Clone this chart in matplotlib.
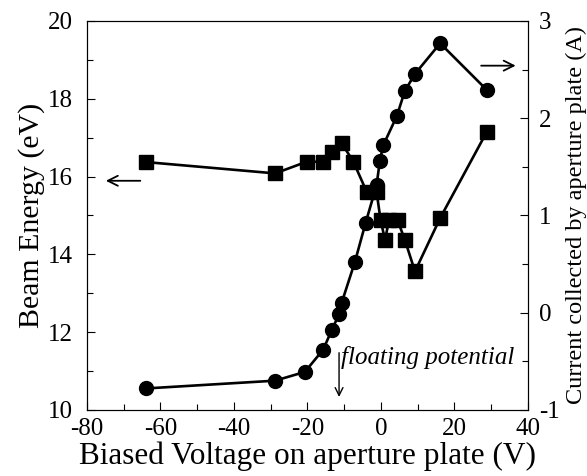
import matplotlib
matplotlib.use("Agg")
import matplotlib.pyplot as plt
from matplotlib.ticker import MultipleLocator
from matplotlib import font_manager

names = sorted({f.name for f in font_manager.fontManager.ttflist})
serif_pick = [n for n in ['Liberation Serif', 'Times New Roman', 'Nimbus Roman', 'DejaVu Serif'] if n in names]
plt.rcParams['font.family'] = 'serif'
plt.rcParams['font.serif'] = serif_pick + ['DejaVu Serif']
plt.rcParams['axes.unicode_minus'] = False

# Beam energy (left axis), squares
energy_x = [-63.8, -28.8, -20.2, -15.7, -13.4, -10.7, -7.5, -3.9, -1.2, -0.1, 1.1, 2.2, 4.5, 6.5, 9.25, 16.1, 28.8]
energy_y = [16.37, 16.08, 16.38, 16.38, 16.64, 16.86, 16.38, 15.61, 15.61, 14.88, 14.37, 14.88, 14.88, 14.37, 13.56, 14.93, 17.15]

# Current collected (right axis), circles
current_x = [-63.9, -28.8, -20.7, -15.7, -13.4, -11.3, -10.7, -7.1, -4.2, -1.2, -0.3, 0.6, 4.3, 6.5, 9.25, 16.1, 28.8]
current_y = [-0.78, -0.70, -0.61, -0.38, -0.18, -0.01, 0.10, 0.52, 0.92, 1.31, 1.56, 1.72, 2.02, 2.28, 2.455, 2.77, 2.29]

fig = plt.figure(figsize=(5.87, 4.76), dpi=100)
ax = fig.add_axes([0.148, 0.139, 0.7515, 0.817])
ax2 = ax.twinx()

ax.plot(energy_x, energy_y, color='black', lw=1.9, marker='s', ms=10.5, zorder=3)
ax2.plot(current_x, current_y, color='black', lw=1.9, marker='o', ms=10, zorder=3)

ax.set_xlim(-80, 40)
ax.set_ylim(10, 20)
ax2.set_ylim(-1, 3)

ax.xaxis.set_major_locator(MultipleLocator(20))
ax.xaxis.set_minor_locator(MultipleLocator(10))
ax.yaxis.set_major_locator(MultipleLocator(2))
ax.yaxis.set_minor_locator(MultipleLocator(1))
ax2.yaxis.set_major_locator(MultipleLocator(1))
ax2.yaxis.set_minor_locator(MultipleLocator(0.5))

ax.tick_params(axis='both', which='both', direction='in', labelsize=18, top=False, right=False)
ax.tick_params(axis='both', which='major', length=6, width=0.8)
ax.tick_params(axis='both', which='minor', length=4, width=0.8)
ax.tick_params(axis='x', which='major', pad=6)
ax.tick_params(axis='y', which='major', pad=10)
ax2.tick_params(axis='y', which='both', direction='in', labelsize=18)
ax2.tick_params(axis='y', which='major', length=6, width=0.8, pad=8)
ax2.tick_params(axis='y', which='minor', length=4, width=0.8)

ax.set_xlabel('Biased Voltage on aperture plate (V)', fontsize=22.5, labelpad=1)
ax.set_ylabel('Beam Energy (eV)', fontsize=21.5, labelpad=2)
ax2.set_ylabel('Current collected by aperture plate (A)', fontsize=17.5, labelpad=4)

# Axis indicator arrows
ax.annotate('', xy=(-75.6, 15.89), xytext=(-64.7, 15.89),
            arrowprops=dict(arrowstyle='->', color='black', lw=1.3, mutation_scale=18))
ax2.annotate('', xy=(37.4, 2.54), xytext=(26.5, 2.54),
             arrowprops=dict(arrowstyle='->', color='black', lw=1.3, mutation_scale=18))

# Floating potential
ax.annotate('', xy=(-11.4, 10.26), xytext=(-11.4, 11.54),
            arrowprops=dict(arrowstyle='->', color='black', lw=1.0, mutation_scale=14))
ax.text(-11.0, 11.35, 'floating potential', fontsize=18, style='italic', ha='left', va='center')

fig.savefig('out.png', dpi=100)
